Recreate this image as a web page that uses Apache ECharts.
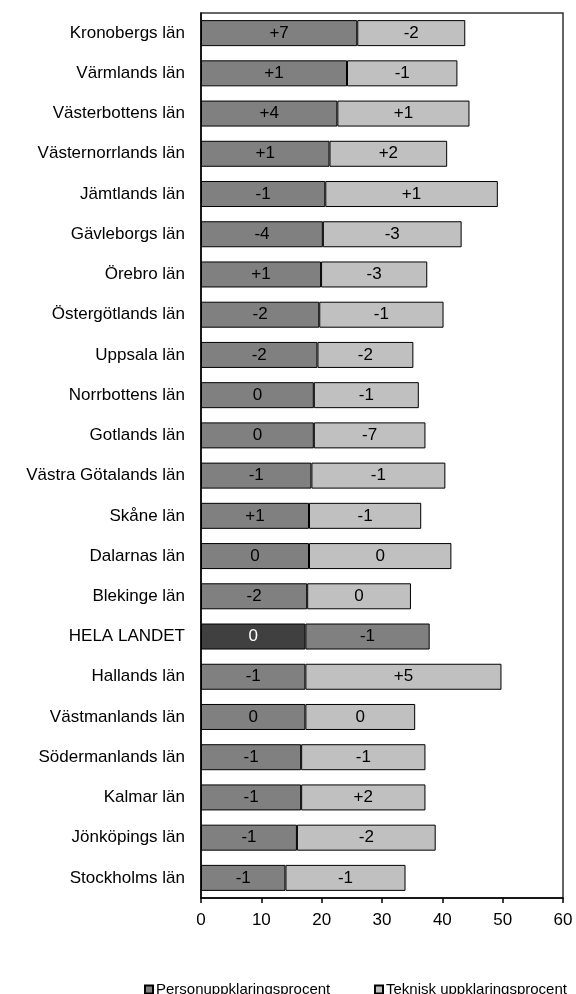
<!DOCTYPE html>
<html>
<head>
<meta charset="utf-8">
<script src="https://cdn.jsdelivr.net/npm/echarts@6/dist/echarts.min.js"></script>
<style>
html,body{margin:0;padding:0;background:#fff;}
#chart{width:576px;height:994px;}
</style>
</head>
<body>
<div id="chart"></div>
<script>
const categories = ["Kronobergs län","Värmlands län","Västerbottens län","Västernorrlands län","Jämtlands län","Gävleborgs län","Örebro län","Östergötlands län","Uppsala län","Norrbottens län","Gotlands län","Västra Götalands län","Skåne län","Dalarnas län","Blekinge län","HELA LANDET","Hallands län","Västmanlands län","Södermanlands län","Kalmar län","Jönköpings län","Stockholms län"];
const personValues = [25.9,24.2,22.6,21.3,20.6,20.2,19.9,19.6,19.3,18.7,18.7,18.3,17.9,17.9,17.6,17.3,17.3,17.3,16.6,16.6,15.9,14.0];
const tekniskValues = [17.9,18.3,21.9,19.5,28.6,23.0,17.6,20.6,15.9,17.4,18.5,22.2,18.6,23.6,17.2,20.6,32.5,18.2,20.6,20.6,23.0,19.9];
const personChange = ["+7","+1","+4","+1","-1","-4","+1","-2","-2","0","0","-1","+1","0","-2","0","-1","0","-1","-1","-1","-1"];
const tekniskChange = ["-2","-1","+1","+2","+1","-3","-3","-1","-2","-1","-7","-1","-1","0","0","-1","+5","0","-1","+2","-2","-1"];
const xTicks = [0,10,20,30,40,50,60];
const seriesNames = ["Personuppklaringsprocent","Teknisk uppklaringsprocent"];

const FONT = '"Liberation Sans", Arial, sans-serif';
const totalIdx = categories.indexOf("HELA LANDET");

function mk(values, changes, totalColor, totalLabelColor) {
  return values.map((v, i) => {
    const d = { value: v, label: { formatter: changes[i] } };
    if (i === totalIdx) {
      d.itemStyle = { color: totalColor };
      d.label.color = totalLabelColor;
    }
    return d;
  });
}

const chart = echarts.init(document.getElementById('chart'), null, { renderer: 'canvas' });
chart.setOption({
  animation: false,
  backgroundColor: '#ffffff',
  textStyle: { fontFamily: FONT },
  grid: { left: 201, right: 13, top: 13, bottom: 96, show: true, borderColor: '#333', borderWidth: 1.5, backgroundColor: 'transparent' },
  legend: [
    { data: [seriesNames[0]], left: 139, top: 977, itemWidth: 8, itemHeight: 8, icon: 'rect',
      textStyle: { fontSize: 15, color: '#000', fontFamily: FONT, padding: [0,0,0,-2] } },
    { data: [seriesNames[1]], left: 369, top: 977, itemWidth: 8, itemHeight: 8, icon: 'rect',
      textStyle: { fontSize: 15, color: '#000', fontFamily: FONT, padding: [0,0,0,-2] } }
  ],
  xAxis: {
    type: 'value', min: xTicks[0], max: xTicks[xTicks.length - 1], interval: 10,
    splitLine: { show: false },
    axisLine: { show: true, lineStyle: { color: '#000', width: 1.5 } },
    axisTick: { show: true, length: 5, lineStyle: { color: '#000', width: 1.5 } },
    axisLabel: { fontSize: 17, color: '#000', margin: 14, fontFamily: FONT }
  },
  yAxis: {
    type: 'category', data: categories, inverse: true,
    axisLine: { show: true, lineStyle: { color: '#000', width: 1.5 } },
    axisTick: { show: false },
    axisLabel: { fontSize: 17, color: '#000', margin: 16, fontFamily: FONT }
  },
  series: [
    {
      name: seriesNames[0], type: 'bar', stack: 'a', barWidth: 26,
      itemStyle: { color: '#808080', borderColor: '#000', borderWidth: 1 },
      label: { show: true, position: 'inside', color: '#000', fontSize: 17, fontFamily: FONT },
      data: mk(personValues, personChange, '#404040', '#fff')
    },
    {
      name: seriesNames[1], type: 'bar', stack: 'a', barWidth: 26,
      itemStyle: { color: '#c0c0c0', borderColor: '#000', borderWidth: 1 },
      label: { show: true, position: 'inside', color: '#000', fontSize: 17, fontFamily: FONT },
      data: mk(tekniskValues, tekniskChange, '#808080', '#000')
    }
  ]
});
</script>
</body>
</html>
